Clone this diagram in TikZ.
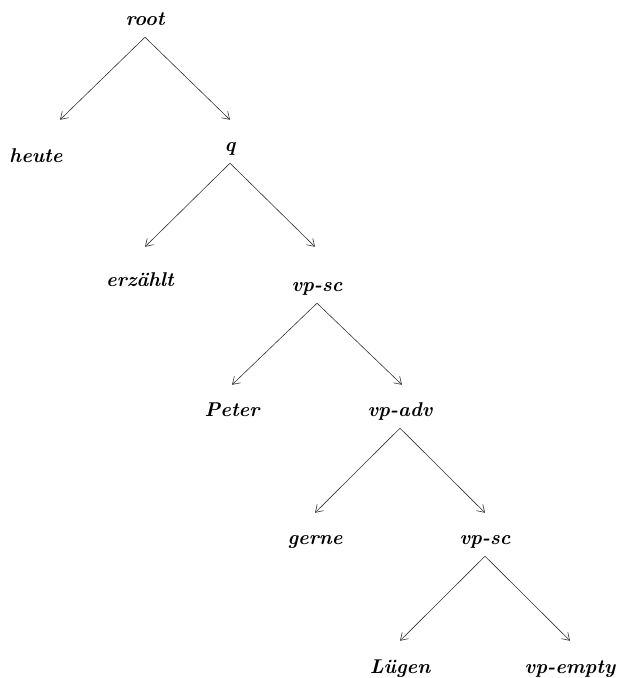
\documentclass[tikz,border=0pt]{standalone}
\usepackage{fontspec}
\usepackage{tikz}
\usetikzlibrary{arrows.meta,positioning}

\begin{document}
\begin{tikzpicture}[>={Straight Barb[length=7bp,width=9bp]},line join=bevel,
  word/.style={font=\fontsize{20}{24}\selectfont\bfseries\itshape,
    inner sep=0pt,text height=32bp,text depth=11bp,anchor=base},
  branch/.style={->,line width=.6bp,black!80}]

  \useasboundingbox (0bp,0bp) rectangle (623bp,678bp);
%%
  % Node: root
  \node[word] (root) at (145bp,652bp) {root};
  % Node: heute
  \node[word] (heute) at (36bp,515bp) {heute};
  % Node: q
  \node[word] (q) at (230bp,526bp) {q};
  % Node: erzaehlt
  \node[word] (erzaehlt) at (140bp,391bp) {erzählt};
  % Node: vpsc
  \node[word] (vpsc) at (317bp,386bp) {vp-sc};
  % Node: peter
  \node[word] (peter) at (232bp,261bp) {Peter};
  % Node: vpadv
  \node[word] (vpadv) at (400bp,261bp) {vp-adv};
  % Node: gerne
  \node[word] (gerne) at (315bp,133bp) {gerne};
  % Node: vpsclow
  \node[word] (vpsclow) at (485bp,133bp) {vp-sc};
  % Node: luegen
  \node[word] (luegen) at (400bp,5bp) {Lügen};
  % Node: vpempty
  \node[word] (vpempty) at (570bp,5bp) {vp-empty};
%
  % Edge: root -> heute
  \draw [branch] (root.south) -- ([xshift=24bp,yshift=11bp]heute.north);
  % Edge: root -> q
  \draw [branch] (root.south) -- (q.north);
  % Edge: q -> erzaehlt
  \draw [branch] (q.south) -- ([xshift=5bp,yshift=8bp]erzaehlt.north);
  % Edge: q -> vpsc
  \draw [branch] (q.south) -- ([xshift=-2bp,yshift=13bp]vpsc.north);
  % Edge: vpsc -> peter
  \draw [branch] (vpsc.south) -- (peter.north);
  % Edge: vpsc -> vpadv
  \draw [branch] (vpsc.south) -- ([xshift=2bp]vpadv.north);
  % Edge: vpadv -> gerne
  \draw [branch] (vpadv.south) -- (gerne.north);
  % Edge: vpadv -> vpsclow
  \draw [branch] (vpadv.south) -- (vpsclow.north);
  % Edge: vpsclow -> luegen
  \draw [branch] (vpsclow.south) -- (luegen.north);
  % Edge: vpsclow -> vpempty
  \draw [branch] (vpsclow.south) -- (vpempty.north);
%
\end{tikzpicture}
\end{document}
